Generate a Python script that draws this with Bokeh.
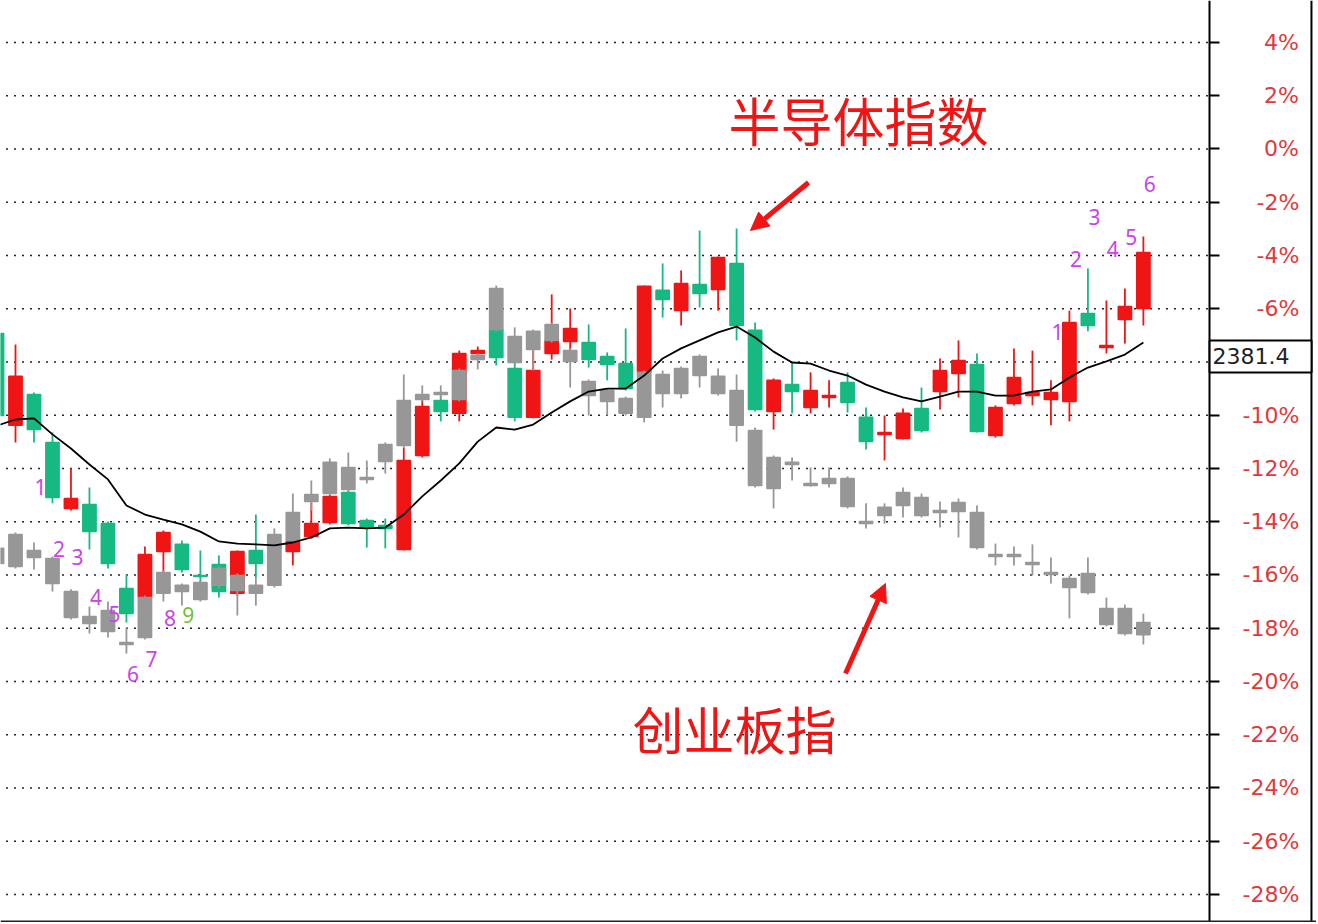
import numpy as np
from bokeh.plotting import figure
from bokeh.models import (Range1d, LinearAxis, FixedTicker, Label, Arrow,
                          NormalHead, ColumnDataSource, Span)
from bokeh.core.properties import value
from bokeh.embed import file_html
from bokeh.resources import INLINE

# ---------------- data (percent change) ----------------
semi_open = [-6.93, -10.38, -9.22, -11.02, -13.50, -13.35, -14.07, -16.51, -16.85, -15.12,
             -14.85, -16.02, -15.61, -16.69, -15.08, -14.82, -15.12, -14.55, -14.03, -12.90,
             -13.95, -14.14, -15.04, -11.51, -9.45, -9.93, -7.68, -6.78, -8.24, -10.08,
             -7.68, -7.23, -7.27, -7.79, -8.06, -8.39, -5.31, -6.07, -5.09, -5.28,
             -4.30, -6.81, -9.86, -8.85, -9.71, -9.33, -8.77, -10.08, -10.72, -10.87,
             -9.75, -9.11, -8.43, -8.09, -10.76, -9.56, -9.26, -9.41, -9.48, -6.18,
             -7.46, -6.40, -5.99]
semi_high = [-6.74, -7.34, -9.15, -10.65, -12.00, -12.71, -13.99, -15.98, -14.93, -14.33,
             -14.70, -15.08, -15.27, -15.08, -13.73, -14.70, -14.67, -13.28, -12.98, -12.83,
             -13.88, -13.88, -11.21, -9.41, -9.26, -7.57, -7.42, -6.63, -8.02, -7.53,
             -5.46, -5.99, -6.59, -7.64, -6.74, -5.13, -4.30, -4.56, -3.06, -4.04,
             -2.99, -6.52, -8.62, -8.02, -8.39, -8.69, -8.39, -9.71, -10.01, -9.75,
             -8.96, -7.87, -7.19, -7.68, -9.63, -7.49, -7.57, -8.69, -6.07, -4.49,
             -5.69, -5.24, -3.29]
semi_low = [-10.20, -11.02, -11.02, -13.31, -13.58, -15.04, -15.76, -17.78, -16.96, -15.94,
            -15.91, -16.32, -16.85, -16.77, -16.13, -15.15, -15.64, -14.63, -14.10, -14.14,
            -14.97, -15.00, -15.08, -11.59, -10.23, -10.23, -7.79, -8.13, -10.23, -10.12,
            -7.91, -7.57, -8.21, -8.69, -9.07, -8.51, -6.33, -6.63, -5.95, -6.07,
            -7.19, -9.86, -10.54, -9.93, -9.93, -9.71, -9.90, -11.29, -11.70, -10.91,
            -10.65, -9.78, -9.33, -10.65, -10.84, -9.63, -9.63, -10.38, -10.23, -6.85,
            -7.68, -7.31, -6.63]
semi_close = [-10.01, -8.54, -10.54, -13.09, -13.13, -14.37, -15.57, -17.45, -15.23, -14.40,
              -15.79, -16.06, -16.62, -15.12, -15.57, -15.00, -14.74, -14.07, -13.05, -14.07,
              -14.22, -14.25, -11.70, -9.67, -9.86, -7.68, -7.57, -7.83, -10.08, -8.32,
              -7.19, -6.74, -7.91, -8.09, -9.00, -5.16, -5.65, -5.05, -5.43, -4.08,
              -6.63, -9.78, -8.69, -9.11, -9.07, -9.26, -9.52, -10.99, -10.65, -9.93,
              -10.57, -8.32, -7.94, -10.61, -9.71, -8.58, -9.15, -9.15, -6.52, -6.63,
              -7.38, -5.92, -3.89]

gem_open = [-15.00, -14.48, -15.08, -15.38, -16.62, -17.56, -17.33, -18.54, -16.85, -15.91,
            -16.39, -16.28, -15.76, -16.02, -16.39, -14.48, -13.65, -12.98, -11.77, -11.96,
            -12.34, -11.10, -9.45, -9.22, -9.15, -8.32, -7.76, -5.24, -7.04, -6.85,
            -6.59, -7.57, -8.73, -9.07, -9.37, -8.39, -8.47, -8.24, -7.79, -8.54,
            -9.07, -10.57, -11.59, -11.77, -12.56, -12.38, -12.38, -13.99, -13.46, -12.90,
            -13.09, -13.58, -13.28, -13.65, -15.23, -15.23, -15.53, -15.91, -16.13, -15.94,
            -17.26, -17.26, -17.78]
gem_high = [-14.89, -14.40, -14.78, -15.31, -16.54, -17.18, -17.00, -17.97, -16.77, -15.83,
            -16.32, -16.21, -15.68, -15.94, -16.13, -14.25, -12.94, -12.45, -11.62, -11.40,
            -11.70, -11.02, -8.47, -8.88, -8.88, -8.24, -7.68, -5.13, -6.70, -6.78,
            -6.52, -7.49, -8.66, -9.00, -9.30, -8.32, -8.32, -8.17, -7.72, -8.24,
            -8.47, -10.46, -11.51, -11.59, -11.96, -11.96, -12.30, -13.31, -13.31, -12.71,
            -12.94, -13.24, -13.13, -13.39, -14.82, -14.93, -14.85, -15.34, -16.02, -15.34,
            -16.85, -17.11, -17.45]
gem_low = [-15.68, -15.76, -15.79, -16.62, -17.67, -18.20, -18.35, -18.95, -18.42, -17.00,
           -17.15, -17.00, -16.51, -17.52, -17.15, -16.47, -14.78, -13.58, -13.01, -12.86,
           -12.56, -12.19, -11.21, -9.48, -9.37, -9.48, -8.28, -6.85, -8.09, -8.32,
           -7.27, -8.96, -10.01, -10.01, -10.01, -10.27, -9.71, -9.37, -8.96, -9.26,
           -10.99, -12.71, -13.50, -12.45, -12.68, -12.71, -13.50, -14.25, -14.07, -13.84,
           -13.84, -14.22, -14.59, -15.04, -15.64, -15.64, -16.02, -16.32, -17.63, -16.73,
           -17.93, -18.27, -18.61]
gem_close = [-15.57, -15.68, -15.34, -16.32, -17.60, -17.82, -18.12, -18.61, -18.35, -16.69,
             -16.62, -16.92, -16.39, -16.58, -16.69, -16.39, -14.70, -13.24, -12.94, -12.79,
             -12.41, -11.74, -11.14, -9.41, -9.22, -9.41, -7.91, -6.78, -8.02, -7.53,
             -7.19, -7.98, -9.26, -9.48, -9.93, -10.08, -9.18, -9.18, -8.51, -9.18,
             -10.38, -12.64, -12.75, -11.85, -12.64, -12.56, -13.43, -14.07, -13.77, -13.39,
             -13.77, -13.65, -13.62, -14.97, -15.31, -15.31, -15.61, -15.98, -16.47, -16.66,
             -17.86, -18.20, -18.24]

semi_ma = [-10.39, -10.16, -10.12, -10.72, -11.25, -11.85, -12.41, -13.39, -13.73, -13.92,
           -14.10, -14.37, -14.74, -14.82, -14.85, -14.89, -14.78, -14.59, -14.25, -14.22,
           -14.25, -14.22, -13.73, -13.05, -12.45, -11.81, -10.99, -10.46, -10.54, -10.35,
           -9.90, -9.48, -9.11, -9.00, -9.00, -8.51, -7.87, -7.49, -7.19, -6.89,
           -6.67, -7.08, -7.61, -8.02, -8.06, -8.32, -8.51, -8.85, -9.11, -9.33,
           -9.48, -9.30, -9.11, -9.11, -9.26, -9.26, -9.11, -9.03, -8.58, -8.21,
           -7.98, -7.72, -7.27]

td_down_bar = [2, 3, 4, 5, 6, 7, 8, 9, 10]
td_down_text = ["1", "2", "3", "4", "5", "6", "7", "8", "9"]
td_down_y = [-12.71, -15.04, -15.31, -16.81, -17.45, -19.70, -19.14, -17.60, -17.52]
td_up_bar = [57, 58, 59, 60, 61, 62]
td_up_text = ["1", "2", "3", "4", "5", "6"]
td_up_y = [-6.89, -4.15, -2.57, -3.77, -3.32, -1.33]

y_ticks = list(range(4, -29, -2))
last_value_text = "2381.4"
last_value_level = -7.79

# ---------------- layout / styles ----------------
RED = "#f01414"
GREEN = "#17b982"
GRAY = "#979797"
PURPLE = "#c845e8"
TD9 = "#72c040"
LABEL_RED = "#e03a3a"

X_START, X_END = 0.189, 0.189 + 1316 / 18.49
Y_TOP = 5.577
Y_BOTTOM = Y_TOP - 922 / 26.625
AXIS_X = 65.58          # position of the price axis
EDGE_X = 71.09          # right border of the chart window
BOTTOM_Y = -29.01       # bottom border of the chart window

p = figure(frame_width=1316, frame_height=922, output_backend="svg",
           toolbar_location=None, x_axis_location=None, y_axis_location=None,
           x_range=Range1d(X_START, X_END), y_range=Range1d(Y_BOTTOM, Y_TOP),
           min_border_left=0, min_border_right=0, min_border_top=0, min_border_bottom=0)
p.outline_line_color = None
p.background_fill_color = "white"
p.border_fill_color = "white"
for g in p.grid:
    g.visible = False

FS, SS = "\u2007", "\u2006"
def pad(t):
    s = f"{t}%"
    if t >= 0:
        s = FS + SS + SS + s
    elif t > -10:
        s = FS + s
    return s

yaxis = LinearAxis(ticker=FixedTicker(ticks=y_ticks), fixed_location=AXIS_X,
                   major_label_overrides={t: pad(t) for t in y_ticks},
                   major_label_text_font="DejaVu Sans",
                   major_label_text_font_size="22px",
                   major_label_text_color=LABEL_RED,
                   major_label_standoff=23,
                   major_tick_out=10, major_tick_in=0,
                   major_tick_line_width=2, major_tick_line_color="black",
                   minor_tick_out=0, minor_tick_in=0,
                   axis_line_width=2, axis_line_color="black")
p.add_layout(yaxis, "right")

# dotted horizontal grid stopping at the price axis
n = len(y_ticks)
p.segment(x0=[X_START - 1] * n, y0=y_ticks, x1=[AXIS_X] * n, y1=y_ticks,
          line_color="#222222", line_width=1.6, line_dash="2 6", level="underlay")

idx = np.arange(len(semi_open))
so, sh, sl, sc = map(np.array, (semi_open, semi_high, semi_low, semi_close))
up = sc >= so
for mask, col in ((up, RED), (~up, GREEN)):
    src = ColumnDataSource(dict(x=idx[mask], high=sh[mask], low=sl[mask],
                                top=np.maximum(so, sc)[mask], bottom=np.minimum(so, sc)[mask]))
    p.segment(x0="x", y0="high", x1="x", y1="low", source=src, line_color=col, line_width=1.8)
    p.vbar(x="x", width=0.72, top="top", bottom="bottom", source=src,
           fill_color=col, line_color=col, line_width=1.5)

go, gh, gl, gc = map(np.array, (gem_open, gem_high, gem_low, gem_close))
gsrc = ColumnDataSource(dict(x=idx, high=gh, low=gl, top=np.maximum(go, gc), bottom=np.minimum(go, gc)))
p.segment(x0="x", y0="high", x1="x", y1="low", source=gsrc, line_color=GRAY, line_width=1.8)
p.vbar(x="x", width=0.72, top="top", bottom="bottom", source=gsrc,
       fill_color=GRAY, line_color=GRAY, line_width=1.5)

p.line(idx, semi_ma, line_color="black", line_width=1.8)

p.text(x=[b + 0.35 for b in td_down_bar], y=td_down_y, text=td_down_text,
       text_color=[PURPLE] * 8 + [TD9], text_font=value("Noto Sans"), text_font_size="21px",
       text_align="center", text_baseline="middle")
p.text(x=[b + 0.35 for b in td_up_bar], y=td_up_y, text=td_up_text,
       text_color=PURPLE, text_font=value("Noto Sans"), text_font_size="21px",
       text_align="center", text_baseline="middle")

p.add_layout(Label(x=46.59, y=1.11, text="半导体指数", text_font="Noto Sans CJK SC",
                   text_font_size="52px", text_color=RED, text_align="center",
                   text_baseline="middle"))
p.add_layout(Label(x=39.89, y=-21.76, text="创业板指", text_font="Noto Sans CJK SC",
                   text_font_size="51px", text_color=RED, text_align="center",
                   text_baseline="middle"))
p.add_layout(Arrow(end=NormalHead(size=18, fill_color=RED, line_color=RED, line_width=1),
                   x_start=43.89, y_start=-1.26, x_end=40.75, y_end=-3.06,
                   line_color=RED, line_width=5))
p.add_layout(Arrow(end=NormalHead(size=18, fill_color=RED, line_color=RED, line_width=1),
                   x_start=45.89, y_start=-19.70, x_end=48.05, y_end=-16.32,
                   line_color=RED, line_width=5))

p.add_layout(Span(location=EDGE_X, dimension="height", line_color="black", line_width=2))
p.add_layout(Span(location=BOTTOM_Y, dimension="width", line_color="#222222", line_width=2))

p.add_layout(Label(x=AXIS_X, y=last_value_level, text=last_value_text,
                   text_font="DejaVu Sans", text_font_size="22px", text_color="#222222",
                   text_align="left", text_baseline="middle",
                   background_fill_color="white", border_line_color="black",
                   border_line_width=2, padding=dict(left=3, right=22, top=8, bottom=8)))

open("out.html", "w").write(file_html(p, INLINE))
